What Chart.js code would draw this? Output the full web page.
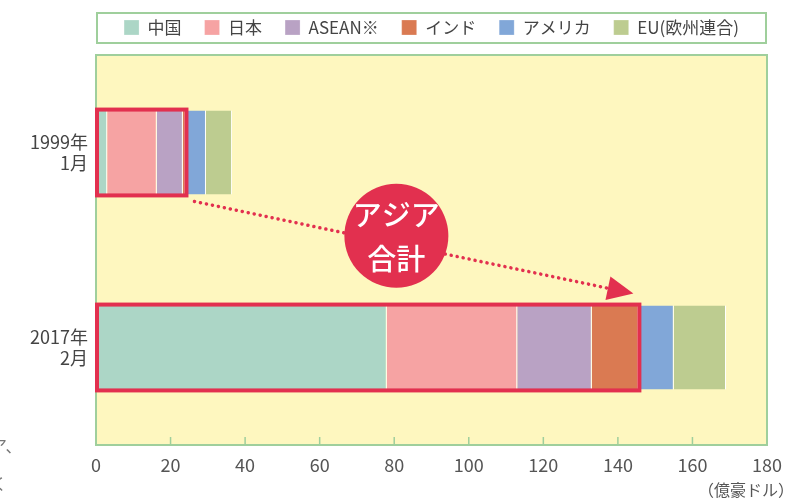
<!DOCTYPE html>
<html><head><meta charset="utf-8">
<script src="https://cdn.jsdelivr.net/npm/chart.js@4.4.1/dist/chart.umd.min.js"></script>
<style>html,body{margin:0;padding:0;background:#fff}#wrap{width:797px;height:500px;position:relative}</style>
</head><body><div id="wrap"><canvas id="c" width="797" height="500"></canvas></div>
<script>
const categories = [["1999年","1月"],["2017年","2月"]];
const seriesNames = ["中国","日本","ASEAN※","インド","アメリカ","EU(欧州連合)"];
const china  = [3, 78];
const japan  = [13.3, 35];
const asean  = [7, 20];
const india  = [0.7, 12.5];
const usa    = [5.5, 9.5];
const eu     = [7, 14];
const xTickValues = [0,20,40,60,80,100,120,140,160,180];
const asiaLabel = ["アジア","合計"];
const unitLabel = "（億豪ドル）";
const edgeFragments = ["ア、","く"];

const colors = ["#acd6c6","#f6a3a3","#b9a2c4","#da7a52","#81a7d8","#bdcc90"];
const FONT = "'Noto Sans CJK JP','Noto Sans',sans-serif";
const seriesData = [china, japan, asean, india, usa, eu];

const datasets = seriesNames.map((n,i)=>({
  label:n, data:seriesData[i], backgroundColor:colors[i],
  borderColor:"#ffffff", borderWidth:{left:0,top:0,bottom:0,right:1},
  borderSkipped:false,
  barPercentage:0.86, categoryPercentage:0.5
}));

const red = "#e2304f";

const deco = {
  id:'deco',
  beforeDraw(chart){
    const {ctx, chartArea:a} = chart;
    ctx.save(); ctx.fillStyle="#fef7bf";
    ctx.fillRect(a.left,a.top,a.right-a.left,a.bottom-a.top);
    // legend frame
    ctx.fillStyle="#ffffff";
    ctx.strokeStyle="#9fcf9c"; ctx.lineWidth=2;
    ctx.strokeRect(a.left+1, 13, a.right-a.left-2, 30);
    ctx.restore();
  },
  afterDatasetsDraw(chart){
    const {ctx, chartArea:a, scales} = chart;
    const xs = scales.x;
    ctx.save();
    ctx.strokeStyle="#9fcf9c"; ctx.lineWidth=2;
    ctx.strokeRect(a.left,a.top,a.right-a.left,a.bottom-a.top);
    ctx.lineWidth=1.5;
    xTickValues.forEach(v=>{
      const x = xs.getPixelForValue(v);
      ctx.beginPath(); ctx.moveTo(x,a.bottom); ctx.lineTo(x,a.bottom-8); ctx.stroke();
    });
    const meta = chart.getDatasetMeta(0);
    const boxes = categories.map((c,i)=>{
      const sum = china[i]+japan[i]+asean[i]+india[i];
      const el = meta.data[i];
      const h = el.height;
      const x0 = xs.getPixelForValue(0)+1, x1 = xs.getPixelForValue(sum)+1;
      const y0 = el.y - h/2 - 1, y1 = el.y + h/2 + 1;
      return {x0,x1,y0,y1};
    });
    ctx.strokeStyle=red; ctx.lineWidth=4;
    boxes.forEach(b=>ctx.strokeRect(b.x0,b.y0,b.x1-b.x0,b.y1-b.y0));
    const sx = boxes[0].x1+8, sy = boxes[0].y1+6;
    const ex = boxes[1].x1-6, ey = boxes[1].y0-11;
    const ang = Math.atan2(ey-sy, ex-sx);
    const headLen = 26;
    const bx = ex - headLen*Math.cos(ang), by = ey - headLen*Math.sin(ang);
    ctx.setLineDash([0.1,6]); ctx.lineCap="round"; ctx.lineWidth=3.5;
    ctx.beginPath(); ctx.moveTo(sx,sy); ctx.lineTo(bx,by); ctx.stroke();
    ctx.setLineDash([]);
    ctx.fillStyle=red;
    ctx.beginPath();
    ctx.moveTo(ex,ey);
    ctx.lineTo(bx + 12*Math.sin(ang), by - 12*Math.cos(ang));
    ctx.lineTo(bx - 12*Math.sin(ang), by + 12*Math.cos(ang));
    ctx.closePath(); ctx.fill();
    const t = 0.46;
    const cx = sx + (ex-sx)*t, cy = sy + (ey-sy)*t - 8;
    ctx.beginPath(); ctx.arc(cx,cy,52,0,Math.PI*2); ctx.fill();
    ctx.fillStyle="#ffffff"; ctx.textAlign="center"; ctx.textBaseline="middle";
    ctx.font="500 29px "+FONT;
    ctx.fillText(asiaLabel[0], cx, cy-21);
    ctx.fillText(asiaLabel[1], cx, cy+23);
    ctx.fillStyle="#555"; ctx.font="16px "+FONT; ctx.textAlign="right";
    ctx.fillText(unitLabel, 794, 490);
    ctx.fillStyle="#777"; ctx.font="16px "+FONT; ctx.textAlign="left";
    ctx.fillText(edgeFragments[0], -9, 446);
    ctx.fillText(edgeFragments[1], -9, 484);
    ctx.restore();
  }
};

new Chart(document.getElementById('c'), {
  type:'bar',
  data:{labels:categories, datasets},
  options:{
    indexAxis:'y', responsive:false, animation:false,
    layout:{padding:{left:0,right:30,top:-4,bottom:0}},
    plugins:{
      legend:{
        position:'top', fullSize:false,
        labels:{font:{family:FONT,size:17}, color:"#444", boxWidth:15, boxHeight:15, padding:23, useBorderRadius:false}
      },
      subtitle:{display:true, text:'', weight:500, fullSize:false, font:{size:1,lineHeight:1}, padding:{top:0,bottom:8}},
      tooltip:{enabled:false}
    },
    scales:{
      x:{
        stacked:true, min:0, max:180,
        afterBuildTicks(s){ s.ticks = xTickValues.map(v=>({value:v})); },
        grid:{display:false, drawTicks:false},
        border:{display:false},
        ticks:{font:{family:FONT,size:18}, color:"#555", padding:9, maxRotation:0},
        afterFit(s){ s.height = 55; }
      },
      y:{
        stacked:true,
        grid:{display:false, drawTicks:false},
        border:{display:false},
        ticks:{font:{family:FONT,size:18}, color:"#444", padding:8},
        afterFit(s){ s.width = 96; }
      }
    }
  },
  plugins:[deco]
});
</script></body></html>
